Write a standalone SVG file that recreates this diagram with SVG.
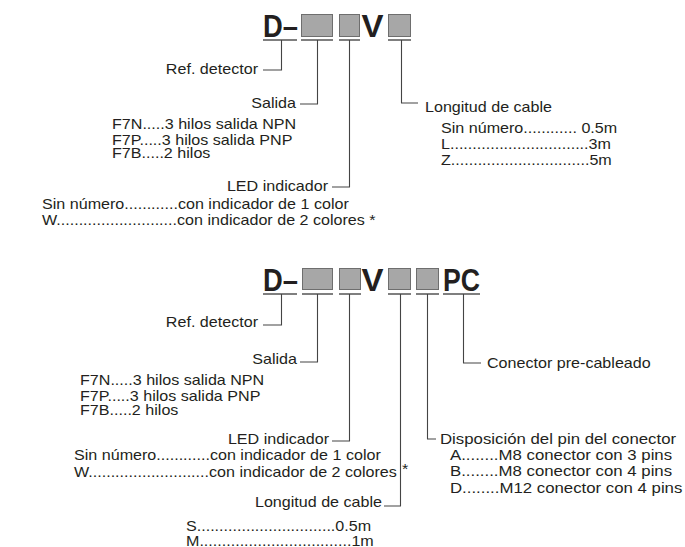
<svg xmlns="http://www.w3.org/2000/svg" width="685" height="547" viewBox="0 0 685 547">
<style>
.t{font-family:"Liberation Sans",Arial,sans-serif;font-size:14px;fill:#231f20}
.e{text-anchor:end}
.h{font-family:"Liberation Sans",Arial,sans-serif;font-size:31px;font-weight:bold;fill:#231f20}
.box{fill:#a7a7a7;stroke:#6e6e6e;stroke-width:1}
.ul{stroke:#555;stroke-width:1.6;fill:none}
.ld{stroke:#444;stroke-width:1.1;fill:none}
</style>
<rect width="685" height="547" fill="#fff"/>

<g id="code1">
<text class="h" x="263" y="37" textLength="35" lengthAdjust="spacingAndGlyphs">D–</text>
<rect class="box" x="301.5" y="14.5" width="31" height="22"/>
<rect class="box" x="339.5" y="14.5" width="20" height="22"/>
<text class="h" x="361.5" y="37" textLength="22" lengthAdjust="spacingAndGlyphs">V</text>
<rect class="box" x="388.5" y="14.5" width="22" height="22"/>
</g>

<g id="connectors1">
<path class="ul" d="M263 40H297M301 40H333M339 40H360M388 40H411"/>
<path class="ld" d="M281.5 40V70H263"/>
<path class="ld" d="M317.5 40V104H300"/>
<path class="ld" d="M349.5 40V187H332"/>
<path class="ld" d="M401.5 40V103H418"/>
</g>

<g id="ref1"><text class="t e" transform="translate(258 74) scale(1.15 1)">Ref. detector</text></g>
<g id="salida1">
<text class="t e" transform="translate(296 108) scale(1.15 1)">Salida</text>
<text class="t" transform="translate(112 129) scale(1.15 1)">F7N.....3 hilos salida NPN</text>
<text class="t" transform="translate(112 145) scale(1.15 1)">F7P.....3 hilos salida PNP</text>
<text class="t" transform="translate(112 158) scale(1.15 1)">F7B.....2 hilos</text>
</g>
<g id="led1">
<text class="t e" transform="translate(328 191) scale(1.15 1)">LED indicador</text>
<text class="t" transform="translate(42 209) scale(1.15 1)">Sin número............con indicador de 1 color</text>
<text class="t" transform="translate(42 225) scale(1.15 1)">W...........................con indicador de 2 colores *</text>
</g>
<g id="cable1">
<text class="t" transform="translate(425 112) scale(1.15 1)">Longitud de cable</text>
<text class="t" transform="translate(441 133) scale(1.15 1)">Sin número............ 0.5m</text>
<text class="t" transform="translate(441 149) scale(1.15 1)">L...............................3m</text>
<text class="t" transform="translate(441 165) scale(1.15 1)">Z...............................5m</text>
</g>

<g id="code2">
<text class="h" x="263" y="291" textLength="35" lengthAdjust="spacingAndGlyphs">D–</text>
<rect class="box" x="302.5" y="268.5" width="30" height="21"/>
<rect class="box" x="339.5" y="268.5" width="21" height="21"/>
<text class="h" x="361.5" y="291" textLength="22" lengthAdjust="spacingAndGlyphs">V</text>
<rect class="box" x="388.5" y="268.5" width="22" height="21"/>
<rect class="box" x="416.5" y="268.5" width="22" height="21"/>
<text class="h" x="443" y="291" textLength="37" lengthAdjust="spacingAndGlyphs">PC</text>
</g>

<g id="connectors2">
<path class="ul" d="M263 294H297M302 294H333M339 294H361M388 294H411M416 294H439M443 294H480"/>
<path class="ld" d="M281.5 294V325H263"/>
<path class="ld" d="M317.5 294V362H300"/>
<path class="ld" d="M349.5 294V441H332"/>
<path class="ld" d="M400.5 294V506H384"/>
<path class="ld" d="M427.5 294V439H436"/>
<path class="ld" d="M463.5 294V363H481"/>
</g>

<g id="ref2"><text class="t e" transform="translate(258 327) scale(1.15 1)">Ref. detector</text></g>
<g id="salida2">
<text class="t e" transform="translate(297 364) scale(1.15 1)">Salida</text>
<text class="t" transform="translate(80 385) scale(1.15 1)">F7N.....3 hilos salida NPN</text>
<text class="t" transform="translate(80 401) scale(1.15 1)">F7P.....3 hilos salida PNP</text>
<text class="t" transform="translate(80 415) scale(1.15 1)">F7B.....2 hilos</text>
</g>
<g id="led2">
<text class="t e" transform="translate(329 444) scale(1.15 1)">LED indicador</text>
<text class="t" transform="translate(74 460) scale(1.15 1)">Sin número............con indicador de 1 color</text>
<text class="t" transform="translate(74 477) scale(1.15 1)">W...........................con indicador de 2 colores</text>
<text class="t" transform="translate(402 474) scale(1.15 1)">*</text>
</g>
<g id="cable2">
<text class="t e" transform="translate(382 507) scale(1.15 1)">Longitud de cable</text>
<text class="t" transform="translate(186 531) scale(1.15 1)">S...............................0.5m</text>
<text class="t" transform="translate(186 546) scale(1.15 1)">M..................................1m</text>
</g>
<g id="pin2">
<text class="t" transform="translate(440 444) scale(1.2 1)">Disposición del pin del conector</text>
<text class="t" transform="translate(450 460) scale(1.2 1)">A........M8 conector con 3 pins</text>
<text class="t" transform="translate(450 476) scale(1.2 1)">B........M8 conector con 4 pins</text>
<text class="t" transform="translate(450 493) scale(1.2 1)">D........M12 conector con 4 pins</text>
</g>
<g id="pc2"><text class="t" transform="translate(487 368) scale(1.15 1)">Conector pre-cableado</text></g>
</svg>
